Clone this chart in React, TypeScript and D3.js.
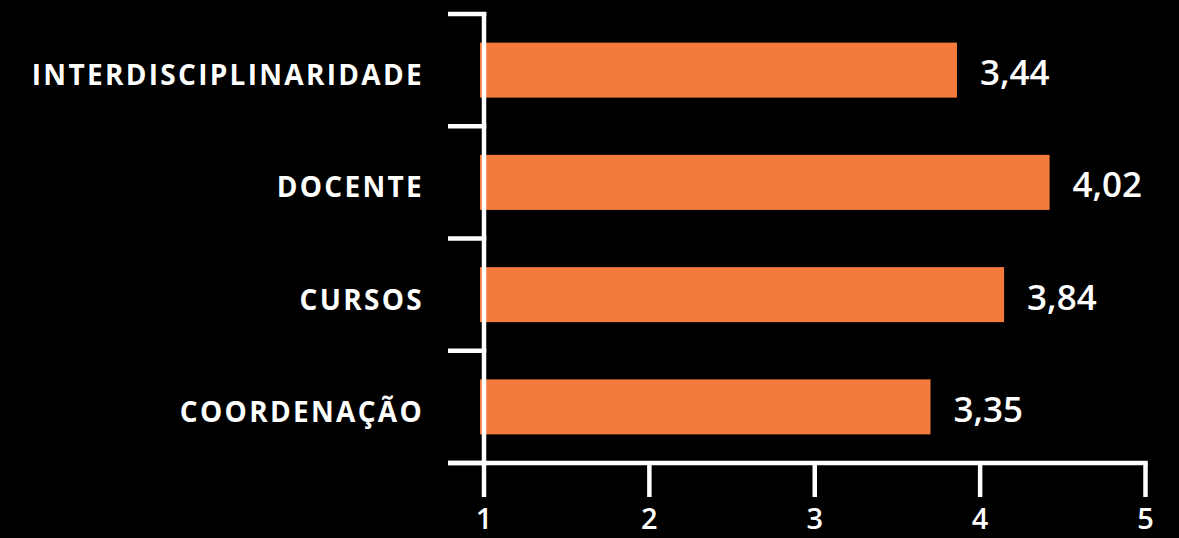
import React, { useEffect, useRef } from "react";
import * as d3 from "d3";

const categories = ["INTERDISCIPLINARIDADE", "DOCENTE", "CURSOS", "COORDENAÇÃO"];
// bar lengths as read against the drawn x axis
const barValues = [3.86, 4.42, 4.145, 3.7];
// value labels as printed
const valueLabels = ["3,44", "4,02", "3,84", "3,35"];
const xTicks = [1, 2, 3, 4, 5];

const W = 1179;
const H = 538;
const ORANGE = "#F47B3B";

export default function App() {
  const ref = useRef<SVGSVGElement>(null);

  useEffect(() => {
    document.body.style.margin = "0";
    document.body.style.background = "#000";
    const svg = d3.select(ref.current);
    svg.selectAll("*").remove();

    const x = d3.scaleLinear().domain([1, 5]).range([484, 1145.5]);
    const y = d3
      .scaleBand<string>()
      .domain(categories)
      .range([14, 463])
      .paddingInner(0.51)
      .paddingOuter(0.255);

    svg.append("rect").attr("width", W).attr("height", H).attr("fill", "#000");

    const data = categories.map((c, i) => ({ c, v: barValues[i], l: valueLabels[i] }));

    // bars
    svg
      .selectAll("rect.bar")
      .data(data)
      .enter()
      .append("rect")
      .attr("class", "bar")
      .attr("x", x(1) - 4)
      .attr("y", (d) => y(d.c)!)
      .attr("width", (d) => x(d.v) - x(1) + 4)
      .attr("height", y.bandwidth())
      .attr("fill", ORANGE);

    // value labels
    svg
      .selectAll("text.val")
      .data(data)
      .enter()
      .append("text")
      .attr("class", "val")
      .attr("x", (d) => x(d.v) + 23)
      .attr("y", (d) => y(d.c)! + y.bandwidth() / 2 + 15)
      .attr("fill", "#fff")
      .attr("font-family", "'Open Sans', sans-serif")
      .attr("font-size", 35)
      .attr("font-weight", 600)
      .text((d) => d.l);

    // category labels
    svg
      .selectAll("text.cat")
      .data(data)
      .enter()
      .append("text")
      .attr("class", "cat")
      .attr("x", 424)
      .attr("y", (d) => y(d.c)! + y.bandwidth() / 2 + 15)
      .attr("text-anchor", "end")
      .attr("fill", "#fff")
      .attr("font-family", "'Open Sans', sans-serif")
      .attr("font-size", 28)
      .attr("font-weight", 700)
      .attr("letter-spacing", 2.3)
      .text((d) => d.c);

    const axisColor = "#fff";
    const sw = 4.5;
    const x0 = x(1);
    const yBottom = 463;

    // y axis line
    svg
      .append("line")
      .attr("x1", x0)
      .attr("x2", x0)
      .attr("y1", 12)
      .attr("y2", yBottom)
      .attr("stroke", axisColor)
      .attr("stroke-width", sw);

    // y ticks at band boundaries
    const yTickPos = categories.map((c) => y(c)! - (y.step() - y.bandwidth()) / 2);
    yTickPos.push(yTickPos[yTickPos.length - 1] + y.step());
    svg
      .selectAll("line.yt")
      .data(yTickPos)
      .enter()
      .append("line")
      .attr("class", "yt")
      .attr("x1", 448)
      .attr("x2", x0 + sw / 2)
      .attr("y1", (d) => d)
      .attr("y2", (d) => d)
      .attr("stroke", axisColor)
      .attr("stroke-width", sw);

    // x axis line
    svg
      .append("line")
      .attr("x1", 448)
      .attr("x2", x(5) + sw / 2)
      .attr("y1", yBottom)
      .attr("y2", yBottom)
      .attr("stroke", axisColor)
      .attr("stroke-width", sw);

    // x ticks
    svg
      .selectAll("line.xt")
      .data(xTicks)
      .enter()
      .append("line")
      .attr("class", "xt")
      .attr("x1", (d) => x(d))
      .attr("x2", (d) => x(d))
      .attr("y1", yBottom)
      .attr("y2", 497)
      .attr("stroke", axisColor)
      .attr("stroke-width", sw);

    svg
      .selectAll("text.xl")
      .data(xTicks)
      .enter()
      .append("text")
      .attr("class", "xl")
      .attr("x", (d) => x(d))
      .attr("y", 529)
      .attr("text-anchor", "middle")
      .attr("fill", "#fff")
      .attr("font-family", "'Open Sans', sans-serif")
      .attr("font-size", 29)
      .attr("font-weight", 600)
      .text((d) => String(d));
  }, []);

  return (
    <svg
      ref={ref}
      width={W}
      height={H}
      style={{ position: "absolute", left: 0, top: 0, display: "block" }}
    />
  );
}
